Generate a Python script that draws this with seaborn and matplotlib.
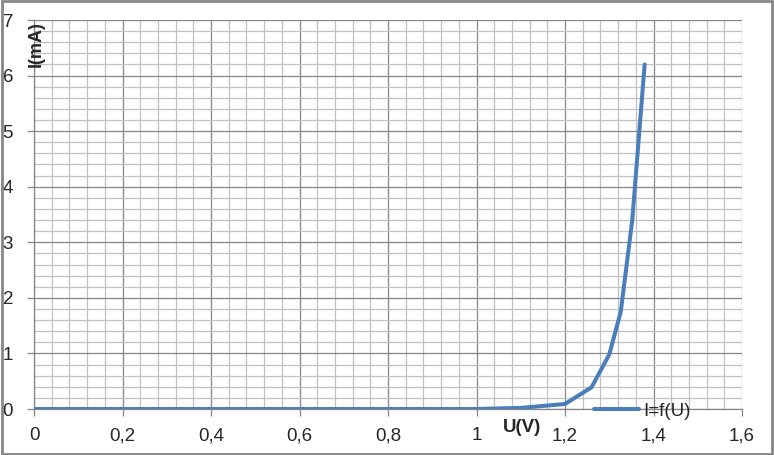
import matplotlib
matplotlib.use("Agg")
import matplotlib.pyplot as plt
import seaborn as sns
import pandas as pd
from matplotlib.ticker import MultipleLocator, FuncFormatter
from matplotlib.patches import Rectangle

# mesures U (V) / I (mA)
tension = [0, 0.1, 0.2, 0.3, 0.4, 0.5, 0.6, 0.7, 0.8, 0.9, 1.0, 1.1, 1.2, 1.26, 1.3, 1.326, 1.352, 1.38]
courant = [0, 0, 0, 0, 0, 0, 0, 0, 0, 0, 0, 0.02, 0.09, 0.39, 0.98, 1.75, 3.4, 6.2]
serie = "I=f(U)"

df = pd.DataFrame({"U": tension, "I": courant})

sns.set_style("white")
plt.rcParams["font.family"] = ["Liberation Sans", "DejaVu Sans"]

fig = plt.figure(figsize=(7.74, 4.55), dpi=100)
ax = fig.add_axes([34 / 774, 1 - 409 / 455, 708 / 774, 389 / 455])

sns.lineplot(data=df, x="U", y="I", ax=ax, color="#4a7ebb", linewidth=2.9,
             label=serie, zorder=3)

ax.set_xlim(0, 1.6)
ax.set_ylim(0, 7)
ax.xaxis.set_major_locator(MultipleLocator(0.2))
ax.xaxis.set_minor_locator(MultipleLocator(0.04))
ax.yaxis.set_major_locator(MultipleLocator(1))
ax.yaxis.set_minor_locator(MultipleLocator(0.2))

def virgule(v, pos):
    return f"{v:g}".replace(".", ",")

ax.xaxis.set_major_formatter(FuncFormatter(virgule))
ax.yaxis.set_major_formatter(FuncFormatter(virgule))

ax.grid(which="minor", color="#c0c0c0", linewidth=0.9)
ax.grid(which="major", color="#868686", linewidth=0.9)
ax.set_axisbelow(True)

for s in ["top", "right"]:
    ax.spines[s].set_visible(False)
for s in ["left", "bottom"]:
    ax.spines[s].set_color("#868686")
    ax.spines[s].set_linewidth(0.9)

ax.tick_params(which="major", direction="out", length=5, width=0.9, color="#868686",
               labelsize=13.5, pad=8, bottom=True, left=True)
ax.tick_params(which="minor", length=0)
ax.tick_params(axis="y", pad=10)

ax.set_xlabel("")
ax.set_ylabel("")
fig.text(36 / 774, 1 - 44 / 455, "I(mA)", rotation=90, ha="center", va="center",
         fontsize=13, fontweight="bold")
fig.text(522 / 774, 1 - 428 / 455, "U(V)", ha="center", va="center",
         fontsize=13.5, fontweight="bold")

ax.legend(loc="center left", bbox_to_anchor=(0.781, -0.005), frameon=False,
          fontsize=13.5, handlelength=2.4, handletextpad=0.2, borderaxespad=0)

fig.patches.append(Rectangle((0.002, 0.003), 0.996, 0.994, transform=fig.transFigure,
                             fill=False, edgecolor="#868686", linewidth=2))

fig.savefig("out.png", dpi=100)
